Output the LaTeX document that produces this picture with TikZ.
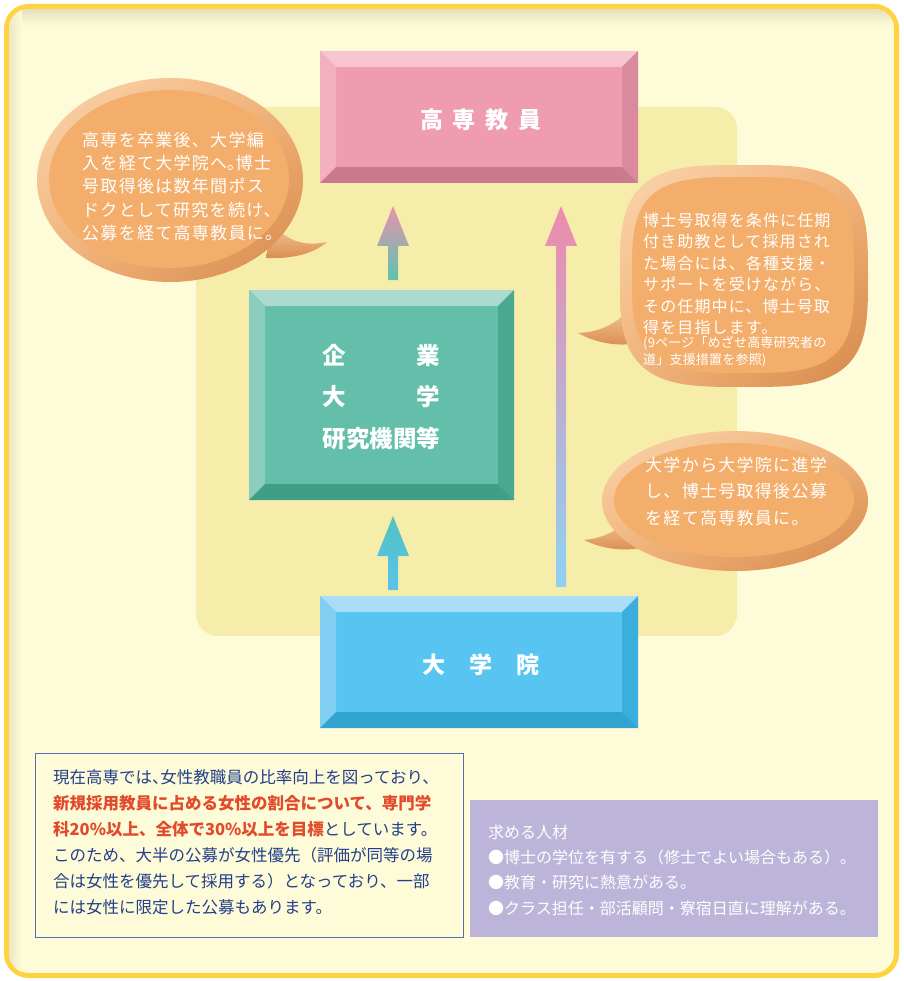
\documentclass[tikz,border=0pt]{standalone}
\usepackage{fontspec}
\setmainfont{Noto Sans CJK JP}
\newfontfamily\jpwide{Noto Sans CJK JP}[LetterSpace=7.6]
\newfontfamily\jpmid{Noto Sans CJK JP}[LetterSpace=7]
\newfontfamily\jpsmall{Noto Sans CJK JP}[LetterSpace=1.5]
\usetikzlibrary{calc,shadings}

\definecolor{frameY}{HTML}{FFD23F}
\definecolor{cream}{HTML}{FEFBD9}
\definecolor{frameshadow}{HTML}{E4E0BE}
\definecolor{panelY}{HTML}{F7EDAB}
\definecolor{pinkF}{HTML}{EF9CB0}
\definecolor{pinkT}{HTML}{F6C5D0}
\definecolor{pinkL}{HTML}{F2B0C0}
\definecolor{pinkB}{HTML}{C97B8D}
\definecolor{pinkR}{HTML}{DA8A9E}
\definecolor{greenF}{HTML}{63BFAA}
\definecolor{greenT}{HTML}{ADDACF}
\definecolor{greenL}{HTML}{8DCDBD}
\definecolor{greenB}{HTML}{409D86}
\definecolor{greenR}{HTML}{4AA890}
\definecolor{blueF}{HTML}{57C4F1}
\definecolor{blueT}{HTML}{AADDF8}
\definecolor{blueL}{HTML}{80CEF2}
\definecolor{blueB}{HTML}{31A4D0}
\definecolor{blueR}{HTML}{3BAFDC}
\definecolor{bubBody}{HTML}{F4AE6B}
\definecolor{rimL}{HTML}{FAD5AE}
\definecolor{rimM}{HTML}{F2B47A}
\definecolor{rimD}{HTML}{D6884A}
\definecolor{tailL}{HTML}{F8CC9E}
\definecolor{tailD}{HTML}{D98C4E}
\definecolor{jpblue}{HTML}{233F8B}
\definecolor{jpred}{HTML}{E24A2C}
\definecolor{lilac}{HTML}{BCB4D9}
\definecolor{noteline}{HTML}{5A6DB0}
\definecolor{arPink}{HTML}{E891B0}
\definecolor{arTeal}{HTML}{5CC4AE}
\definecolor{arTeal2}{HTML}{52C2C0}
\definecolor{arBlue}{HTML}{5BC3EB}
\definecolor{arPink2}{HTML}{EE8AAC}
\definecolor{arLBlue}{HTML}{8ED2F3}

\tikzset{
  boxnode/.style={inner sep=0pt, outer sep=0pt, text=white,
    font=\bfseries\fontsize{23}{28}\selectfont},
  bubtext/.style={inner sep=0pt, text=white, align=left, anchor=west},
}

% bevels around a named box node: name, top, left, bottom, right
\newcommand\bevelset[5]{%
  \fill[#2] (#1.north west) -- (#1.north east) -- ($(#1.north east)+(-16,16)$) -- ($(#1.north west)+(16,16)$) -- cycle;
  \fill[#3] (#1.north west) -- ($(#1.north west)+(16,16)$) -- ($(#1.south west)+(16,-16)$) -- (#1.south west) -- cycle;
  \fill[#4] (#1.south west) -- ($(#1.south west)+(16,-16)$) -- ($(#1.south east)+(-16,-16)$) -- (#1.south east) -- cycle;
  \fill[#5] (#1.south east) -- ($(#1.south east)+(-16,-16)$) -- ($(#1.north east)+(-16,16)$) -- (#1.north east) -- cycle;
}

% block arrow from start coordinate to tip coordinate
\newcommand\blockarrow[4]{%
  \shade[top color=#3, bottom color=#4] let \p1=(#1), \p2=(#2) in
    (\x1-5pt,\y1) -- (\x1-5pt,\y2-40pt) -- (\x1-16pt,\y2-40pt) -- (\x2,\y2)
    -- (\x1+16pt,\y2-40pt) -- (\x1+5pt,\y2-40pt) -- (\x1+5pt,\y1) -- cycle;
}

% superellipse bubble: cx, cy, a, b, exponent
\newcommand\bubble[5]{%
  \shade[upper left=rimL, upper right=rimM, lower left=rimM, lower right=rimD]
    plot[domain=0:360, samples=122]
    ({#1+#3*cos(\x)*(abs(cos(\x))+0.00001)^(#5-1)},
     {#2+#4*sin(\x)*(abs(sin(\x))+0.00001)^(#5-1)}) -- cycle;
  \fill[bubBody]
    plot[domain=0:360, samples=122]
    ({#1-1+(#3-13)*cos(\x)*(abs(cos(\x))+0.00001)^(#5-1)},
     {#2-1+(#4-13)*sin(\x)*(abs(sin(\x))+0.00001)^(#5-1)}) -- cycle;
}

\begin{document}
\begin{tikzpicture}[x=1pt, y=-1pt]
\useasboundingbox (0,0) rectangle (903,981);
\fill[white] (0,0) rectangle (903,981);

% outer frame
\draw[line width=5pt, draw=frameY, fill=cream, rounded corners=22pt]
  (6.5,6.5) rectangle (896.5,975.5);
\begin{scope}
  \clip[rounded corners=19pt] (9,9) rectangle (894,973);
  \shade[top color=frameshadow, bottom color=cream] (9,9) rectangle (894,26);
  \shade[left color=frameshadow!70!cream, right color=cream] (9,9) rectangle (22,973);
\end{scope}

% inner panel
\fill[panelY, rounded corners=22pt] (196,107) rectangle (737,636);

% boxes
\node[boxnode, fill=pinkF, minimum width=318pt, minimum height=132pt] (kosen) at (479,117) {};
\bevelset{kosen}{pinkT}{pinkL}{pinkB}{pinkR}
\node[boxnode] (kosenT) at (481,120) {高\hspace{10pt}専\hspace{10pt}教\hspace{10pt}員};

\node[boxnode, fill=greenF, minimum width=265pt, minimum height=210pt] (corp) at (381.5,395) {};
\bevelset{corp}{greenT}{greenL}{greenB}{greenR}
\node[boxnode, align=left, font=\bfseries\fontsize{23.5}{41.5}\selectfont] (corpT) at (381.5,397)
  {\makebox[5em]{企\hfill 業}\\\makebox[5em]{大\hfill 学}\\研究機関等};

\node[boxnode, fill=blueF, minimum width=318pt, minimum height=132pt] (grad) at (479,662) {};
\bevelset{grad}{blueT}{blueL}{blueB}{blueR}
\node[boxnode] (gradT) at (481,665) {大\hspace{24.5pt}学\hspace{24.5pt}院};

% arrows
\coordinate (a1s) at (393,280);  \coordinate (a1e) at (393,206);
\coordinate (a2s) at (393,590);  \coordinate (a2e) at (393,516);
\coordinate (a3s) at (561,587);  \coordinate (a3e) at (561,206);
\blockarrow{a1s}{a1e}{arPink}{arTeal}
\blockarrow{a2s}{a2e}{arTeal2}{arBlue}
\blockarrow{a3s}{a3e}{arPink2}{arLBlue}

% tails
\shade[top color=tailL, bottom color=tailD]
  (272,222) .. controls (285,240) and (302,247) .. (327,242)
  .. controls (314,253) and (295,259) .. (266,258) -- cycle;
\shade[top color=tailL, bottom color=tailD]
  (632,305) .. controls (620,322) and (602,332) .. (578,333)
  .. controls (596,343) and (618,347) .. (638,343) -- cycle;
\shade[top color=tailL, bottom color=tailD]
  (632,515) .. controls (620,530) and (604,538) .. (584,540)
  .. controls (602,549) and (625,552) .. (645,547) -- cycle;

% bubbles
\bubble{170}{180}{133}{102}{1}
\bubble{744}{276}{124}{111}{0.58}
\bubble{735}{501}{133}{70}{1}

\node[bubtext, font=\jpwide\fontsize{17}{23.3}\selectfont] (b1) at (82,186.5)
  {高専を卒業後、大学編\\入を経て大学院へ\makebox[0.5em][l]{。}博士\\号取得後は数年間ポス\\ドクとして研究を続け、\\公募を経て高専教員に。};

\node[bubtext, font=\jpmid\fontsize{16}{21.5}\selectfont] (b2) at (643,273.75)
  {博士号取得を条件に任期\\付き助教として採用され\\た場合には、各種支援・\\サポートを受けながら、\\その任期中に、博士号取\\得を目指します。};
\node[bubtext, font=\jpsmall\fontsize{13}{17.5}\selectfont] (b2s) at (643,351.5)
  {(9ページ「めざせ高専研究者の\\道」支援措置を参照)};

\node[bubtext, font=\jpwide\fontsize{17}{26.5}\selectfont] (b3) at (645,491.5)
  {大学から大学院に進学\\し、博士号取得後公募\\を経て高専教員に。};

% note box
\draw[noteline, line width=0.8pt, fill=cream] (35,753) rectangle (463,937);
\node[inner sep=0pt, anchor=west, align=left, text=jpblue, font=\fontsize{16.5}{26}\selectfont] (note) at (53,842)
  {現在高専では\makebox[0.5em][l]{、}女性教職員の比率向上を図っており、\\
  \textcolor{jpred}{\bfseries 新規採用教員に占める女性の割合について、専門学}\\
  \textcolor{jpred}{\bfseries 科20\%以上、全体で30\%以上を目標}としています。\\
  このため、大半の公募が女性優先（評価が同等の場\\
  合は女性を優先して採用する）となっており、一部\\
  には女性に限定した公募もあります。};

% requirements box
\fill[lilac] (470,800) rectangle (878,937);
\node[inner sep=0pt, anchor=west, align=left, text=white, font=\fontsize{16}{25.3}\selectfont] (req) at (488,870)
  {求める人材\\
  ●博士の学位を有する（修士でよい場合もある）。\\
  ●教育・研究に熱意がある。\\
  ●クラス担任・部活顧問・寮宿日直に理解がある。};
\end{tikzpicture}
\end{document}
